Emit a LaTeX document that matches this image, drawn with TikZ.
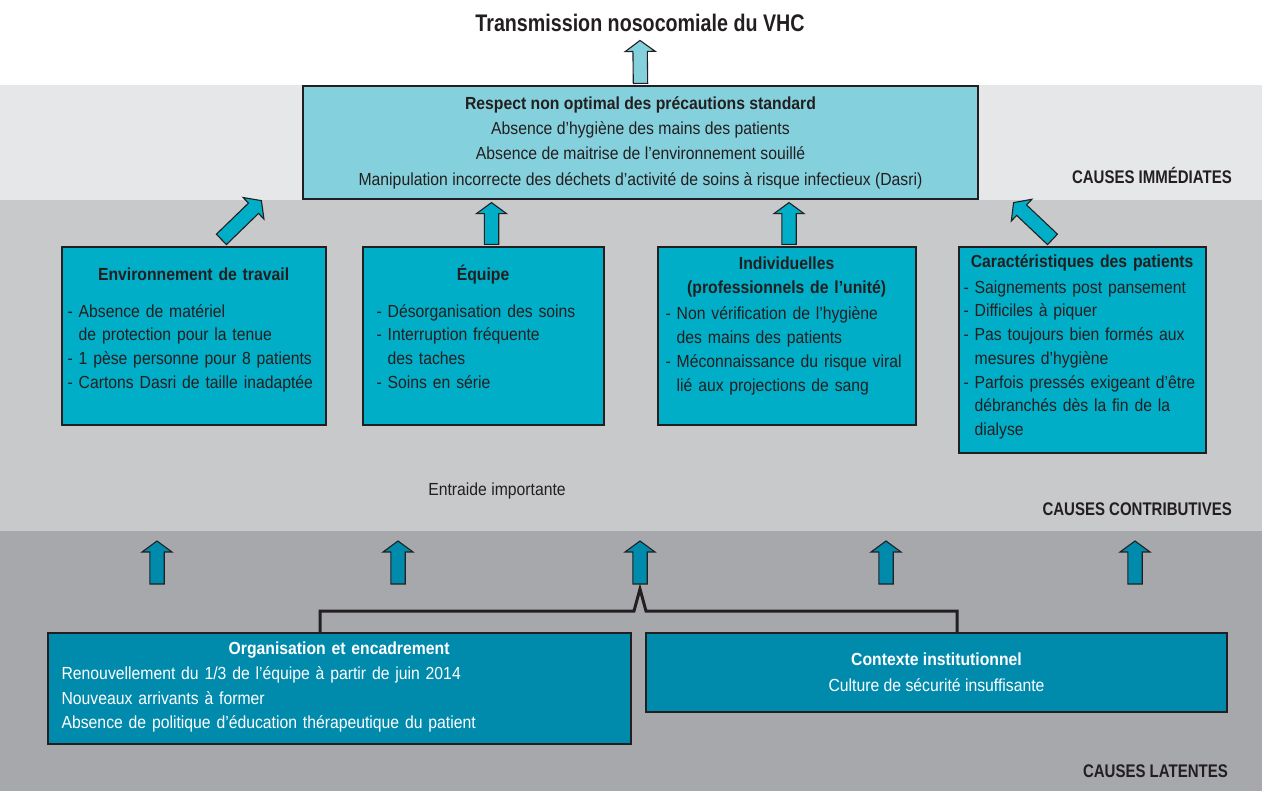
\documentclass[tikz,border=0pt]{standalone}
\usepackage{fontspec}
\setmainfont{Liberation Sans}[FakeStretch=0.9]
\newfontfamily\narrowfont{Liberation Sans}[FakeStretch=0.82]
\usetikzlibrary{positioning,calc}

\definecolor{ink}{HTML}{231F20}
\definecolor{bandA}{HTML}{E6E7E9}
\definecolor{bandB}{HTML}{C8C9CB}
\definecolor{bandC}{HTML}{A7A8AC}
\definecolor{paleteal}{HTML}{84D0DC}
\definecolor{midteal}{HTML}{00AEC7}
\definecolor{deepteal}{HTML}{008BAD}

\newcommand{\boxtitle}[1]{\makebox[\hsize]{\rule{0pt}{16pt}\bfseries #1}}
% block arrow from #2 to #3, filled with #1
\newcommand{\fatarrow}[3]{%
  \draw[fatedge, fill=#1] let \p1=(#2), \p2=(#3),
      \n1={atan2(\y2-\y1,\x2-\x1)}, \n2={veclen(\x2-\x1,\y2-\y1)} in
    [shift={(\p1)}, rotate=\n1]
    (0pt,-7.2pt) -- ({\n2-11pt},-7.2pt) -- ({\n2-11pt},-15pt) -- ({\n2+0pt},0pt)
    -- ({\n2-11pt},15pt) -- ({\n2-11pt},7.2pt) -- (0pt,7.2pt) -- cycle;}

\begin{document}
\begin{tikzpicture}[x=1pt, y=-1pt,
    font=\fontsize{17.5}{23.7}\selectfont, text=ink,
    box/.style={draw=ink, line width=1.2pt, inner sep=0pt},
    topbox/.style={box, fill=paleteal, align=center, minimum width=675pt,
      minimum height=113pt, font=\fontsize{17.5}{25.3}\selectfont},
    midbox/.style={box, fill=midteal, minimum width=#1},
    lowbox/.style={box, fill=deepteal, text=white},
    boxtext/.style={inner sep=0pt, align=left},
    titletext/.style={inner sep=0pt, font=\narrowfont\fontsize{24}{26}\selectfont\bfseries},
    layerlabel/.style={inner sep=0pt, anchor=base east, font=\narrowfont\fontsize{18.3}{20}\selectfont\bfseries},
    fatedge/.style={draw=ink, line width=1.1pt, line join=miter},
    bracket/.style={draw=ink, line width=3pt, line join=miter}]
\useasboundingbox (0,0) rectangle (1262,791);

% layers
\fill[bandA] (0,85) rectangle (1262,200);
\fill[bandB] (0,200) rectangle (1262,531);
\fill[bandC] (0,531) rectangle (1262,791);

\node[titletext, anchor=base] (title) at (640,32) {Transmission nosocomiale du VHC};
\node[topbox] (precau) at (640.5,142.5) {\textbf{Respect non optimal des précautions standard}\\
  Absence d’hygiène des mains des patients\\
  Absence de maitrise de l’environnement souillé\\
  Manipulation incorrecte des déchets d’activité de soins à risque infectieux (Dasri)};

% contributive causes
\node[midbox=264pt, minimum height=178pt] (env) at (194,336) {};
\node[midbox=241pt, minimum height=178pt] (equipe) at (483.5,336) {};
\node[midbox=258pt, minimum height=178pt] (indiv) at (787,336) {};
\node[midbox=247pt, minimum height=206pt] (carac) at (1082.5,350) {};

\node[boxtext, text width=252pt, below right=18pt and 6pt of env.north west] (envtext)
  {\boxtitle{Environnement de travail}\\[13pt]
   - Absence de matériel\\
   \phantom{- }de protection pour la tenue\\
   - 1 pèse personne pour 8 patients\\
   - Cartons Dasri de taille inadaptée};
\node[boxtext, text width=213pt, below right=18pt and 14pt of equipe.north west] (equipetext)
  {\boxtitle{Équipe}\\[13pt]
   - Désorganisation des soins\\
   - Interruption fréquente\\
   \phantom{- }des taches\\
   - Soins en série};
\node[boxtext, text width=242pt, below right=7pt and 8pt of indiv.north west] (indivtext)
  {\boxtitle{Individuelles}\\
   \boxtitle{(professionnels de l’unité)}\\[3pt]
   - Non vérification de l’hygiène\\
   \phantom{- }des mains des patients\\
   - Méconnaissance du risque viral\\
   \phantom{- }lié aux projections de sang};
\node[boxtext, text width=237pt, below right=5pt and 5pt of carac.north west] (caractext)
  {\boxtitle{Caractéristiques des patients}\\[2pt]
   - Saignements post pansement\\
   - Difficiles à piquer\\
   - Pas toujours bien formés aux\\
   \phantom{- }mesures d’hygiène\\
   - Parfois pressés exigeant d’être\\
   \phantom{- }débranchés dès la fin de la\\
   \phantom{- }dialyse};

\node[inner sep=0pt, anchor=base] (entraide) at (497,496) {Entraide importante};

% latent causes
\node[lowbox, minimum width=583pt, minimum height=111pt] (org) at (339.5,688.5) {};
\node[boxtext, text=white, text width=555pt, font=\fontsize{17.5}{24.7}\selectfont,
  below right=6pt and 14pt of org.north west] (orgtext)
  {\boxtitle{Organisation et encadrement}\\
   Renouvellement du 1/3 de l’équipe à partir de juin 2014\\
   Nouveaux arrivants à former\\
   Absence de politique d’éducation thérapeutique du patient};
\node[lowbox, align=center, minimum width=581pt, minimum height=79pt,
  font=\fontsize{17.5}{26}\selectfont] (ctx) at (936.5,672.5)
  {\textbf{Contexte institutionnel}\\ Culture de sécurité insuffisante};

\node[layerlabel] (immediate) at (1232,184) {CAUSES IMMÉDIATES};
\node[layerlabel] (contrib) at (1232,516) {CAUSES CONTRIBUTIVES};
\node[layerlabel] (latent) at (1228,777) {CAUSES LATENTES};

\foreach \x [count=\i] in {157,398,640,886,1135} {
  \coordinate (lat\i) at (\x,584);
  \coordinate (con\i) at (\x,541);
}
\draw[bracket] ($(org.north)+(-19.5,0)$) |- ($(lat3)+(-6,27)$) -- ($(lat3)+(0,5)$)
  -- ($(lat3)+(6,27)$) -| ($(ctx.north)+(20.5,0)$);

% arrows
\fatarrow{paleteal}{$(precau.north)+(0,-2)$}{$(title.south)+(0,8)$}
\fatarrow{midteal}{$(env.north west)+(160,-7)$}{$(precau.south west)+(-41,1)$}
\fatarrow{midteal}{$(equipe.north)+(8,-2)$}{$(equipe.north |- precau.south)+(8,3)$}
\fatarrow{midteal}{$(indiv.north)+(2,-2)$}{$(indiv.north |- precau.south)+(2,3)$}
\fatarrow{midteal}{$(carac.north)+(-30,-7)$}{$(precau.south east)+(35,3)$}
\foreach \i in {1,...,5} {
  \fatarrow{deepteal}{lat\i}{con\i}
}
\end{tikzpicture}
\end{document}
